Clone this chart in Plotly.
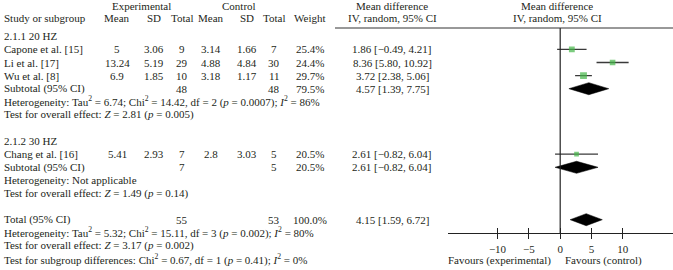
import plotly.graph_objects as go

# ---------------- data ----------------
studies = ["Capone et al. [15]", "Li et al. [17]", "Wu et al. [8]", "Chang et al. [16]"]
study_rows = [1, 2, 3, 9]
exp_mean = ["5", "13.24", "6.9", "5.41"]
exp_sd = ["3.06", "5.19", "1.85", "2.93"]
exp_n = [9, 29, 10, 7]
ctl_mean = ["3.14", "4.88", "3.18", "2.8"]
ctl_sd = ["1.66", "4.84", "1.17", "3.03"]
ctl_n = [7, 30, 11, 5]
weight = [25.4, 24.4, 29.7, 20.5]
md = [1.86, 8.36, 3.72, 2.61]
md_lo = [-0.49, 5.80, 2.38, -0.82]
md_hi = [4.21, 10.92, 5.06, 6.04]

pooled_labels = ["Subtotal (95% CI)", "Subtotal (95% CI)", "Total (95% CI)"]
pooled_rows = [4, 10, 14]
pooled_exp_n = [48, 7, 55]
pooled_ctl_n = [48, 5, 53]
pooled_weight = [79.5, 20.5, 100.0]
pooled_md = [4.57, 2.61, 4.15]
pooled_lo = [1.39, -0.82, 1.59]
pooled_hi = [7.75, 6.04, 6.72]

group_labels = ["2.1.1 20 HZ", "2.1.2 30 HZ"]
group_rows = [0, 8]

note_rows = [5, 6, 11, 12, 15, 16, 17]
note_texts = [
    "Heterogeneity: Tau<sup>2</sup> = 6.74; Chi<sup>2</sup> = 14.42, df = 2 (<i>p</i> = 0.0007); <i>I</i><sup>2</sup> = 86%",
    "Test for overall effect: <i>Z</i> = 2.81 (<i>p</i> = 0.005)",
    "Heterogeneity: Not applicable",
    "Test for overall effect: <i>Z</i> = 1.49 (<i>p</i> = 0.14)",
    "Heterogeneity: Tau<sup>2</sup> = 5.32; Chi<sup>2</sup> = 15.11, df = 3 (<i>p</i> = 0.002); <i>I</i><sup>2</sup> = 80%",
    "Test for overall effect: <i>Z</i> = 3.17 (<i>p</i> = 0.002)",
    "Test for subgroup differences: Chi<sup>2</sup> = 0.67, df = 1 (<i>p</i> = 0.41); <i>I</i><sup>2</sup> = 0%",
]

tick_vals = [-10, -5, 0, 5, 10]
x_range = [-17.9, 18.0]
favours = ["Favours (experimental)", "Favours (control)"]

# ---------------- layout helpers ----------------
W, H = 673, 270
FONT = "Liberation Serif, Times New Roman, serif"
FS = 11
TXT = "#231f20"
ROW0, PITCH = 36.3, 13.1          # pixel y of row 0, pixel pitch per row
AXIS_PIX = 233.3                  # pixel y of forest axis line
row_top = (0 - ROW0) / PITCH
row_axis = (AXIS_PIX - ROW0) / PITCH
row_hline = (28 - ROW0) / PITCH

col = dict(left=2, em=117, esd=154, en=182, cm=211, csd=247, cn=274, w=310, ci=392)

def px(x):
    return x / W

def row_to_paper(r):
    return (H - (ROW0 + PITCH * r)) / H

def fmt_ci(m, l, h):
    return f"{m:.2f} [{l:.2f}, {h:.2f}]".replace("-", "\u2212")

ann = []
def add(text, xpix, row, anchor="center", size=FS):
    ann.append(dict(text=text, x=px(xpix), xref="paper", y=row_to_paper(row), yref="paper",
                    xanchor=anchor, yanchor="middle", showarrow=False,
                    font=dict(family=FONT, size=size, color=TXT)))

# headers
add("Experimental", 141, -2.33)
add("Control", 239, -2.33)
add("Mean difference", 392, -2.33)
add("IV, random, 95% CI", 392, -1.42)
add("Mean difference", 557, -2.33)
add("IV, random, 95% CI", 557, -1.42)
add("Study or subgroup", col["left"], -1.4, "left")
for t, c in [("Mean", "em"), ("SD", "esd"), ("Total", "en"), ("Mean", "cm"),
             ("SD", "csd"), ("Total", "cn"), ("Weight", "w")]:
    add(t, col[c], -1.4)

for g, r in zip(group_labels, group_rows):
    add(g, col["left"], r, "left")

for i, r in enumerate(study_rows):
    add(studies[i], col["left"], r, "left")
    add(exp_mean[i], col["em"], r)
    add(exp_sd[i], col["esd"], r)
    add(str(exp_n[i]), col["en"], r)
    add(ctl_mean[i], col["cm"], r)
    add(ctl_sd[i], col["csd"], r)
    add(str(ctl_n[i]), col["cn"], r)
    add(f"{weight[i]:.1f}%", col["w"], r)
    add(fmt_ci(md[i], md_lo[i], md_hi[i]), col["ci"], r)

for i, r in enumerate(pooled_rows):
    add(pooled_labels[i], col["left"], r, "left")
    add(str(pooled_exp_n[i]), col["en"], r)
    add(str(pooled_ctl_n[i]), col["cn"], r)
    add(f"{pooled_weight[i]:.1f}%", col["w"], r)
    add(fmt_ci(pooled_md[i], pooled_lo[i], pooled_hi[i]), col["ci"], r)

for t, r in zip(note_texts, note_rows):
    add(t, col["left"], r, "left")

# favours labels below axis
for t, xpix, anc in zip(favours, [553, 563], ["right", "left"]):
    ann.append(dict(text=t, x=px(xpix), xref="paper", y=(H - 260) / H, yref="paper",
                    xanchor=anc, yanchor="middle", showarrow=False,
                    font=dict(family=FONT, size=FS, color=TXT)))

# ---------------- traces ----------------
fig = go.Figure()
GREEN = "#45b649"
CI_COL = "#3a3a3a"

for i, r in enumerate(study_rows):
    fig.add_trace(go.Scatter(x=[md_lo[i], md_hi[i]], y=[r, r], mode="lines",
                             line=dict(color=CI_COL, width=1.3), showlegend=False,
                             hoverinfo="skip"))
fig.add_trace(go.Scatter(x=md, y=study_rows, mode="markers",
                         marker=dict(symbol="square", color=GREEN,
                                     size=[w * 0.23 for w in weight], line=dict(width=0)),
                         showlegend=False))

DH = 0.46  # diamond half-height in rows
for i, r in enumerate(pooled_rows):
    fig.add_trace(go.Scatter(
        x=[pooled_lo[i], pooled_md[i], pooled_hi[i], pooled_md[i], pooled_lo[i]],
        y=[r, r - DH, r, r + DH, r], mode="lines", fill="toself",
        fillcolor="black", line=dict(color="black", width=0.5), showlegend=False))

# dummy trace for overlay axis with inside ticks
fig.add_trace(go.Scatter(x=x_range, y=[row_axis, row_axis], xaxis="x2", mode="lines",
                         line=dict(width=0), showlegend=False, hoverinfo="skip"))

shapes = [
    dict(type="line", xref="x", yref="y", x0=0, x1=0, y0=row_hline, y1=row_axis,
         line=dict(color="#222", width=1.2)),
    dict(type="line", xref="paper", yref="y", x0=px(335), x1=1, y0=row_hline, y1=row_hline,
         line=dict(color="#333", width=1)),
]

dom_x = [px(448), 1]
fig.update_layout(
    width=W, height=H, margin=dict(l=0, r=0, t=0, b=0),
    paper_bgcolor="white", plot_bgcolor="white",
    xaxis=dict(domain=dom_x, range=x_range, tickvals=tick_vals,
               ticks="outside", ticklen=5, tickwidth=1, tickcolor="#222",
               showline=True, linecolor="#222", linewidth=1,
               showgrid=False, zeroline=False,
               tickfont=dict(family=FONT, size=FS, color=TXT), anchor="y"),
    xaxis2=dict(domain=dom_x, range=x_range, tickvals=tick_vals, overlaying="x",
                matches="x", ticks="inside", ticklen=5, tickwidth=1, tickcolor="#222",
                showticklabels=False, showline=False, showgrid=False, zeroline=False,
                anchor="y", side="bottom"),
    yaxis=dict(domain=[(H - AXIS_PIX) / H, 1], range=[row_axis, row_top],
               visible=False, showgrid=False, zeroline=False),
    annotations=ann, shapes=shapes, showlegend=False,
)

fig.write_html("out.html")
